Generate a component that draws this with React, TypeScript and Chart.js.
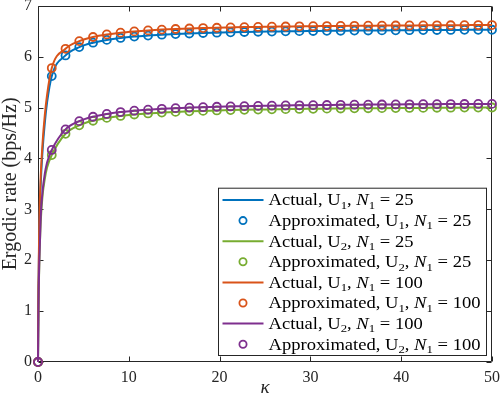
import React, { useEffect, useRef } from "react";
import { Chart, registerables } from "chart.js";

Chart.register(...registerables);

// ---------- data ----------
const kappa = [0, 1.515, 3.03, 4.545, 6.061, 7.576, 9.091, 10.606, 12.121, 13.636, 15.152, 16.667, 18.182, 19.697, 21.212, 22.727, 24.242, 25.758, 27.273, 28.788, 30.303, 31.818, 33.333, 34.848, 36.364, 37.879, 39.394, 40.909, 42.424, 43.939, 45.455, 46.97, 48.485, 50];

const approxU1N25 = [0, 5.618, 6.025, 6.188, 6.275, 6.33, 6.368, 6.395, 6.415, 6.432, 6.445, 6.456, 6.465, 6.472, 6.479, 6.485, 6.49, 6.494, 6.498, 6.502, 6.505, 6.508, 6.51, 6.513, 6.515, 6.517, 6.519, 6.521, 6.522, 6.524, 6.525, 6.527, 6.528, 6.529];
const approxU2N25 = [0, 4.067, 4.485, 4.652, 4.741, 4.797, 4.836, 4.864, 4.885, 4.901, 4.915, 4.926, 4.935, 4.943, 4.95, 4.956, 4.961, 4.965, 4.969, 4.973, 4.976, 4.979, 4.982, 4.985, 4.987, 4.989, 4.991, 4.993, 4.994, 4.996, 4.997, 4.999, 5.0, 5.001];
const approxU1N100 = [0, 5.777, 6.155, 6.306, 6.387, 6.437, 6.472, 6.497, 6.517, 6.532, 6.544, 6.554, 6.562, 6.569, 6.575, 6.581, 6.585, 6.59, 6.593, 6.597, 6.599, 6.602, 6.605, 6.607, 6.609, 6.611, 6.613, 6.614, 6.616, 6.617, 6.618, 6.62, 6.621, 6.622];
const approxU2N100 = [0, 4.167, 4.572, 4.733, 4.82, 4.875, 4.912, 4.939, 4.959, 4.976, 4.989, 4.999, 5.008, 5.016, 5.022, 5.028, 5.033, 5.038, 5.042, 5.045, 5.048, 5.051, 5.054, 5.056, 5.058, 5.06, 5.062, 5.064, 5.066, 5.067, 5.069, 5.07, 5.071, 5.072];

// finer samples of the exact curves near kappa = 0
const kappaFine = [0, 0.05, 0.15, 0.3, 0.5, 0.75, 1.0];
const fineU1N25 = [0, 1.4, 2.65, 3.5, 4.15, 4.7, 5.1];
const fineU2N25 = [0, 1.05, 1.95, 2.75, 3.27, 3.6, 3.82];
const fineU1N100 = [0, 1.5, 2.8, 3.65, 4.3, 4.85, 5.25];
const fineU2N100 = [0, 1.1, 2.0, 2.85, 3.35, 3.7, 3.92];

const kappaActual = [...kappaFine, ...kappa.slice(1)];
const actualU1N25 = [...fineU1N25, ...approxU1N25.slice(1)];
const actualU2N25 = [...fineU2N25, ...approxU2N25.slice(1)];
const actualU1N100 = [...fineU1N100, ...approxU1N100.slice(1)];
const actualU2N100 = [...fineU2N100, ...approxU2N100.slice(1)];

const xTicks = [0, 10, 20, 30, 40, 50];
const yTicks = [0, 1, 2, 3, 4, 5, 6, 7];

const seriesKinds = ["Actual", "Approximated", "Actual", "Approximated", "Actual", "Approximated", "Actual", "Approximated"];
const seriesUsers = ["1", "1", "2", "2", "1", "1", "2", "2"];
const seriesN = ["25", "25", "25", "25", "100", "100", "100", "100"];

// ---------- styles ----------
const BLUE = "#0072BD";
const GREEN = "#77AC30";
const ORANGE = "#D95319";
const PURPLE = "#7E2F8E";
const seriesColors = [BLUE, BLUE, GREEN, GREEN, ORANGE, ORANGE, PURPLE, PURPLE];
const AXIS = "#262626";
const SERIF = '"Liberation Serif", "Times New Roman", serif';

const toXY = (xs: number[], ys: number[]) => xs.map((x, i) => ({ x, y: ys[i] }));

const frameSeries = [
  toXY(kappaActual, actualU1N25),
  toXY(kappa, approxU1N25),
  toXY(kappaActual, actualU2N25),
  toXY(kappa, approxU2N25),
  toXY(kappaActual, actualU1N100),
  toXY(kappa, approxU1N100),
  toXY(kappaActual, actualU2N100),
  toXY(kappa, approxU2N100),
];

const TICK_LEN = 5;

const framePlugin = {
  id: "matlabFrame",
  beforeDatasetsDraw(chart: any) {
    const { ctx, chartArea: a, scales } = chart;
    const xs = scales.x;
    const ys = scales.y;
    ctx.save();
    ctx.strokeStyle = AXIS;
    ctx.lineWidth = 1;
    const L = Math.round(a.left) + 0.5;
    const R = Math.round(a.right) - 0.5;
    const T = Math.round(a.top) + 0.5;
    const B = Math.round(a.bottom) - 0.5;
    ctx.beginPath();
    ctx.rect(L, T, R - L, B - T);
    for (const v of xTicks) {
      const px = Math.round(xs.getPixelForValue(v)) + 0.5;
      ctx.moveTo(px, B);
      ctx.lineTo(px, B - TICK_LEN);
      ctx.moveTo(px, T);
      ctx.lineTo(px, T + TICK_LEN);
    }
    for (const v of yTicks) {
      const py = Math.round(ys.getPixelForValue(v)) + 0.5;
      ctx.moveTo(L, py);
      ctx.lineTo(L + TICK_LEN, py);
      ctx.moveTo(R, py);
      ctx.lineTo(R - TICK_LEN, py);
    }
    ctx.stroke();
    ctx.restore();
  },
  afterDraw(chart: any) {
    const { ctx, chartArea: a } = chart;
    const main = `16px ${SERIF}`;
    const ital = `italic 16px ${SERIF}`;
    const sub = `11px ${SERIF}`;
    const rows = seriesKinds.map((k, i) => [
      { t: `${k}, U`, f: main, dy: 0 },
      { t: seriesUsers[i], f: sub, dy: 3.5 },
      { t: ", ", f: main, dy: 0 },
      { t: "N", f: ital, dy: 0 },
      { t: "1", f: sub, dy: 3.5 },
      { t: ` = ${seriesN[i]}`, f: main, dy: 0 },
    ]);
    ctx.save();
    const widths = rows.map((segs) =>
      segs.reduce((w, s) => {
        ctx.font = s.f;
        return w + ctx.measureText(s.t).width;
      }, 0)
    );
    const maxW = Math.max(...widths);
    const targetW = 212;
    const sx = targetW / maxW;
    const rowH = 20.6;
    const boxW = 50 + targetW + 6;
    const boxH = rows.length * rowH + 2.5;
    const right = Math.round(a.right) - 5.5;
    const bottom = Math.round(a.bottom) - 6.5;
    const left = right - boxW;
    const top = bottom - boxH;
    ctx.fillStyle = "#ffffff";
    ctx.fillRect(left, top, boxW, boxH);
    ctx.strokeStyle = AXIS;
    ctx.lineWidth = 1;
    ctx.strokeRect(left, top, boxW, boxH);
    rows.forEach((segs, i) => {
      const cy = top + 1.5 + rowH * (i + 0.5);
      const color = seriesColors[i];
      if (seriesKinds[i] === "Actual") {
        ctx.strokeStyle = color;
        ctx.lineWidth = 2;
        ctx.beginPath();
        ctx.moveTo(left + 4, cy);
        ctx.lineTo(left + 45, cy);
        ctx.stroke();
      } else {
        ctx.strokeStyle = color;
        ctx.lineWidth = 1.8;
        ctx.beginPath();
        ctx.arc(left + 24.5, cy, 3.6, 0, Math.PI * 2);
        ctx.stroke();
      }
      ctx.save();
      ctx.translate(left + 50, cy + 5.3);
      ctx.scale(sx, 1);
      ctx.fillStyle = "#000000";
      ctx.textBaseline = "alphabetic";
      let cx = 0;
      for (const s of segs) {
        ctx.font = s.f;
        ctx.fillText(s.t, cx, s.dy);
        cx += ctx.measureText(s.t).width;
      }
      ctx.restore();
    });
    ctx.restore();
  },
};

export default function App() {
  const canvasRef = useRef<HTMLCanvasElement | null>(null);

  useEffect(() => {
    if (!canvasRef.current) return;
    const datasets = frameSeries.map((data, i) => {
      const isLine = seriesKinds[i] === "Actual";
      return {
        label: `${seriesKinds[i]}, U${seriesUsers[i]}, N1 = ${seriesN[i]}`,
        data,
        order: 7 - i,
        borderColor: seriesColors[i],
        backgroundColor: "rgba(0,0,0,0)",
        showLine: isLine,
        borderWidth: 2,
        cubicInterpolationMode: "monotone" as const,
        pointRadius: isLine ? 0 : 4,
        pointBorderWidth: 1.8,
        pointBorderColor: seriesColors[i],
        pointBackgroundColor: "rgba(0,0,0,0)",
        pointStyle: "circle" as const,
        clip: false as any,
      };
    });

    const chart = new Chart(canvasRef.current, {
      type: "line",
      data: { datasets },
      plugins: [framePlugin],
      options: {
        animation: false,
        responsive: true,
        maintainAspectRatio: false,
        events: [],
        layout: { padding: { top: 5, right: 8, left: 0, bottom: 0 } },
        plugins: {
          legend: { display: false },
          tooltip: { enabled: false },
        },
        scales: {
          x: {
            type: "linear",
            min: 0,
            max: 50,
            afterBuildTicks: (scale: any) => {
              scale.ticks = xTicks.map((v) => ({ value: v }));
            },
            afterFit: (scale: any) => {
              scale.height = 34;
              scale.paddingLeft = 0;
              scale.paddingRight = 0;
            },
            ticks: {
              color: AXIS,
              font: { family: SERIF, size: 16, lineHeight: 0.7 },
              padding: 10,
              maxRotation: 0,
              autoSkip: false,
            },
            grid: { display: false, drawTicks: false },
            border: { display: false },
            title: {
              display: true,
              text: "κ",
              color: AXIS,
              font: { family: SERIF, size: 19, style: "italic", lineHeight: 0.5 },
              padding: { top: 0, bottom: 3 },
            },
          },
          y: {
            type: "linear",
            min: 0,
            max: 7,
            afterBuildTicks: (scale: any) => {
              scale.ticks = yTicks.map((v) => ({ value: v }));
            },
            afterFit: (scale: any) => {
              scale.width = 38;
              scale.paddingTop = 0;
              scale.paddingBottom = 0;
            },
            ticks: {
              color: AXIS,
              font: { family: SERIF, size: 16, lineHeight: 0.6 },
              padding: 6,
              autoSkip: false,
            },
            grid: { display: false, drawTicks: false },
            border: { display: false },
            title: {
              display: true,
              text: "Ergodic rate (bps/Hz)",
              color: AXIS,
              font: { family: SERIF, size: 20, lineHeight: 1.07 },
              padding: { top: 0, bottom: 2.6 },
            },
          },
        },
      },
    });
    return () => chart.destroy();
  }, []);

  return (
    <div style={{ position: "fixed", left: 0, top: 0, width: 500, height: 396, background: "#ffffff" }}>
      <canvas ref={canvasRef} />
    </div>
  );
}
